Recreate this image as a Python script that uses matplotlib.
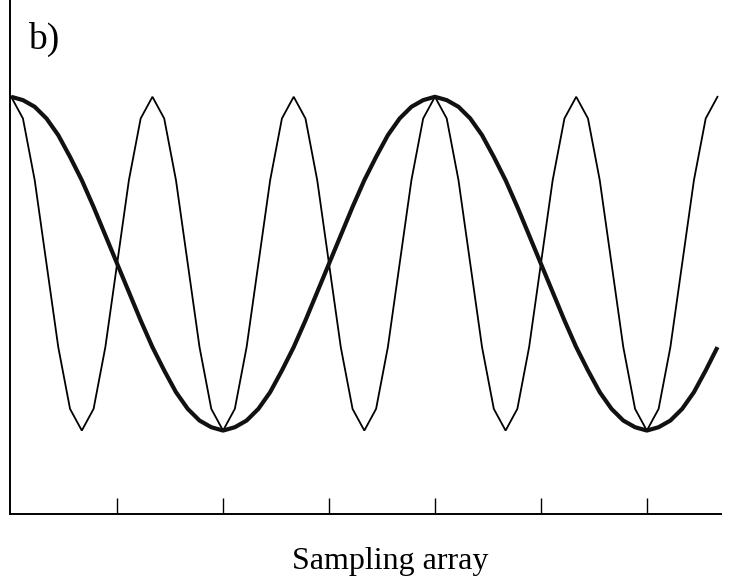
import matplotlib
matplotlib.use("Agg")
import matplotlib.pyplot as plt

# sample index along the sampling array
samples = list(range(61))

# thin curve: high-frequency signal read at each sample
thin_values = [
    1.0, 0.87, 0.5, 0.0, -0.5, -0.87, -1.0, -0.87, -0.5, 0.0, 0.5, 0.87,
    1.0, 0.87, 0.5, 0.0, -0.5, -0.87, -1.0, -0.87, -0.5, 0.0, 0.5, 0.87,
    1.0, 0.87, 0.5, 0.0, -0.5, -0.87, -1.0, -0.87, -0.5, 0.0, 0.5, 0.87,
    1.0, 0.87, 0.5, 0.0, -0.5, -0.87, -1.0, -0.87, -0.5, 0.0, 0.5, 0.87,
    1.0, 0.87, 0.5, 0.0, -0.5, -0.87, -1.0, -0.87, -0.5, 0.0, 0.5, 0.87,
    1.0,
]

# thick curve: low-frequency (aliased) signal at each sample
thick_values = [
    1.0, 0.98, 0.94, 0.87, 0.77, 0.64, 0.5, 0.34, 0.17, 0.0,
    -0.17, -0.34, -0.5, -0.64, -0.77, -0.87, -0.94, -0.98, -1.0,
    -0.98, -0.94, -0.87, -0.77, -0.64, -0.5, -0.34, -0.17, 0.0,
    0.17, 0.34, 0.5, 0.64, 0.77, 0.87, 0.94, 0.98, 1.0,
    0.98, 0.94, 0.87, 0.77, 0.64, 0.5, 0.34, 0.17, 0.0,
    -0.17, -0.34, -0.5, -0.64, -0.77, -0.87, -0.94, -0.98, -1.0,
    -0.98, -0.94, -0.87, -0.77, -0.64, -0.5,
]

tick_positions = [9, 18, 27, 36, 45, 54]

W, H = 731, 582
fig = plt.figure(figsize=(W / 100, H / 100), dpi=100)
left_px, right_px, bottom_px, top_px = 10, 721, 514, 0
ax = fig.add_axes([left_px / W, 1 - bottom_px / H,
                   (right_px - left_px) / W, (bottom_px - top_px) / H])

ax.plot(samples, thin_values, color="black", lw=1.3, solid_joinstyle="miter")
ax.plot(samples, thick_values, color="#111111", lw=3.0, solid_capstyle="butt")

ax.set_xlim(-0.1, 60.3)
ax.set_ylim(-1.5, 1.58)

for s in ("top", "right"):
    ax.spines[s].set_visible(False)
for s in ("left", "bottom"):
    ax.spines[s].set_linewidth(1.4)
    ax.spines[s].set_color("black")

ax.set_xticks(tick_positions)
ax.set_xticklabels([])
ax.tick_params(axis="x", direction="in", length=11.5, width=1.0, color="black")
ax.set_yticks([])

fig.text(28 / W, 1 - 39 / H, "b)", family="Liberation Serif", fontsize=27,
         ha="left", va="center", color="black")
fig.text(390 / W, 1 - 562 / H, "Sampling array", family="Liberation Serif",
         fontsize=23, ha="center", va="center", color="black")

fig.savefig("out.png", dpi=100)
